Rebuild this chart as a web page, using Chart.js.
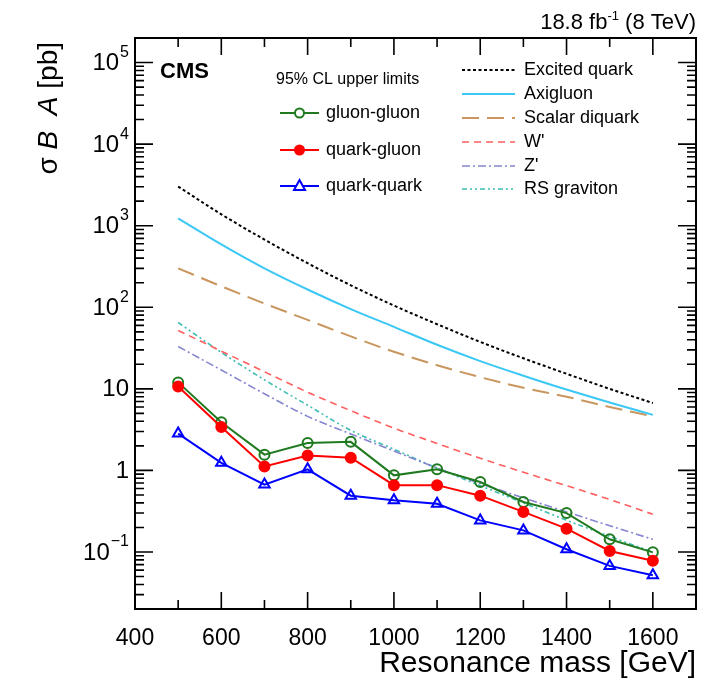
<!DOCTYPE html>
<html>
<head>
<meta charset="utf-8">
<script src="https://cdn.jsdelivr.net/npm/chart.js@4.4.1/dist/chart.umd.min.js"></script>
<style>
html, body { margin: 0; padding: 0; background: #fff; }
#wrap { width: 704px; height: 685px; }
</style>
</head>
<body>
<div id="wrap"><canvas id="myChart" width="704" height="685"></canvas></div>
<script>
// resonance masses (GeV)
var masses = [500, 600, 700, 800, 900, 1000, 1100, 1200, 1300, 1400, 1500, 1600];

// 95% CL upper limits (pb)
var gluonGluon = [12.0, 3.9, 1.56, 2.17, 2.24, 0.87, 1.03, 0.72, 0.41, 0.30, 0.143, 0.099];
var quarkGluon = [10.7, 3.4, 1.12, 1.52, 1.43, 0.66, 0.66, 0.49, 0.31, 0.193, 0.103, 0.078];
var quarkQuark = [2.83, 1.24, 0.67, 1.03, 0.49, 0.43, 0.39, 0.244, 0.184, 0.108, 0.0675, 0.052];

// model predictions (pb)
var excitedQuark = [3020, 1380, 676, 347, 186, 105, 62, 37.6, 23.7, 15.3, 10.0, 6.7];
var axigluon = [1230, 590, 300, 165, 95, 57.5, 34.7, 21.9, 14.5, 9.8, 6.8, 4.8];
var scalarDiquark = [300, 181, 111, 70, 44, 28.5, 19.5, 13.9, 10.3, 8.0, 6.0, 4.6];
var wPrime = [52, 29, 16.2, 9.1, 5.4, 3.3, 2.14, 1.41, 0.95, 0.65, 0.44, 0.29];
var zPrime = [33, 17, 8.7, 4.6, 2.8, 1.73, 1.07, 0.69, 0.46, 0.31, 0.21, 0.143];
var rsGraviton = [65, 28, 12.9, 6.3, 3.1, 1.82, 1.07, 0.65, 0.40, 0.245, 0.155, 0.10];

// axis tick labels
var xTickLabels = {400: '400', 600: '600', 800: '800', 1000: '1000', 1200: '1200', 1400: '1400', 1600: '1600'};
// y labels: [base, exponent] for each decade
var yTickLabels = {'-1': ['10', '\u22121'], '0': ['1', ''], '1': ['10', ''], '2': ['10', '2'],
                   '3': ['10', '3'], '4': ['10', '4'], '5': ['10', '5']};

function pts(vals) {
  return masses.map(function (m, i) { return {x: m, y: vals[i]}; });
}

function isDecade(v) {
  var l = Math.log10(v);
  return Math.abs(l - Math.round(l)) < 1e-6;
}

var FONT = '"Liberation Sans", Arial, sans-serif';

// frame, inward ticks and all the free text (CMS style)
var decor = {
  id: 'decor',
  afterDraw: function (chart) {
    var ctx = chart.ctx, a = chart.chartArea;
    var xs = chart.scales.x, ys = chart.scales.y;
    ctx.save();
    ctx.strokeStyle = '#000';
    ctx.lineWidth = 1.6;
    ctx.beginPath();
    xs.ticks.forEach(function (t) {
      var px = xs.getPixelForValue(t.value);
      var len = (t.value % 200 === 0) ? 17 : 9;
      ctx.moveTo(px, a.bottom); ctx.lineTo(px, a.bottom - len);
      ctx.moveTo(px, a.top); ctx.lineTo(px, a.top + len);
    });
    ys.ticks.forEach(function (t) {
      var v = t.value;
      var e = Math.floor(Math.log10(v) + 1e-9);
      var m = v / Math.pow(10, e);
      if (Math.abs(m - Math.round(m)) > 1e-6) return;
      var py = ys.getPixelForValue(v);
      var len = isDecade(v) ? 18 : 9;
      ctx.moveTo(a.left, py); ctx.lineTo(a.left + len, py);
      ctx.moveTo(a.right, py); ctx.lineTo(a.right - len, py);
    });
    ctx.stroke();
    ctx.lineWidth = 2;
    ctx.strokeRect(a.left, a.top, a.right - a.left, a.bottom - a.top);

    ctx.fillStyle = '#000';

    // y tick labels with raised exponents
    ctx.textBaseline = 'middle';
    ctx.textAlign = 'left';
    ys.ticks.forEach(function (t) {
      if (!isDecade(t.value)) return;
      var lab = yTickLabels[String(Math.round(Math.log10(t.value)))];
      if (!lab) return;
      var py = ys.getPixelForValue(t.value);
      ctx.font = '24px ' + FONT; var wb = ctx.measureText(lab[0]).width;
      ctx.font = '16px ' + FONT; var we = lab[1] ? ctx.measureText(lab[1]).width + 1 : 0;
      var xr = a.left - 6;
      ctx.font = '24px ' + FONT; ctx.fillText(lab[0], xr - we - wb, py + 1);
      if (lab[1]) { ctx.font = '16px ' + FONT; ctx.fillText(lab[1], xr - we + 1, py - 10); }
    });

    ctx.textBaseline = 'alphabetic';

    // CMS label
    ctx.font = 'bold 22px ' + FONT;
    ctx.textAlign = 'left';
    ctx.fillText('CMS', 160, 78);

    // lumi label
    var p1 = '18.8 fb', p2 = '-1', p3 = ' (8 TeV)';
    ctx.font = '22px ' + FONT; var w1 = ctx.measureText(p1).width, w3 = ctx.measureText(p3).width;
    ctx.font = '13px ' + FONT; var w2 = ctx.measureText(p2).width;
    var x0 = a.right - (w1 + w2 + w3);
    ctx.font = '22px ' + FONT; ctx.fillText(p1, x0, 29);
    ctx.font = '13px ' + FONT; ctx.fillText(p2, x0 + w1, 20);
    ctx.font = '22px ' + FONT; ctx.fillText(p3, x0 + w1 + w2, 29);

    // x title
    ctx.font = '30px ' + FONT;
    ctx.textAlign = 'right';
    ctx.fillText('Resonance mass [GeV]', a.right, 672);

    // y title
    ctx.save();
    ctx.translate(57, 0);
    ctx.rotate(-Math.PI / 2);
    ctx.textAlign = 'left';
    var parts = [['\u03C3 ', '28px '], ['B', 'italic 28px '], ['  ', '28px '], ['A', 'italic 28px '], [' [pb]', '28px ']];
    var tw = 0;
    parts.forEach(function (p) { ctx.font = p[1] + FONT; tw += ctx.measureText(p[0]).width; });
    var cx = -(42 + tw);
    parts.forEach(function (p) { ctx.font = p[1] + FONT; ctx.fillText(p[0], cx, 0); cx += ctx.measureText(p[0]).width; });
    ctx.restore();

    // legend, left column
    ctx.textAlign = 'left';
    ctx.textBaseline = 'middle';
    ctx.font = '16px ' + FONT;
    ctx.fillText('95% CL upper limits', 276, 80);
    var left = [
      ['gluon-gluon', '#1f7a1f', 'circle', false, 113],
      ['quark-gluon', '#ff0000', 'circle', true, 150],
      ['quark-quark', '#0000ff', 'triangle', false, 186]
    ];
    left.forEach(function (e) {
      ctx.setLineDash([]);
      ctx.strokeStyle = e[1]; ctx.fillStyle = e[1]; ctx.lineWidth = 2;
      ctx.beginPath(); ctx.moveTo(280, e[4]); ctx.lineTo(319, e[4]); ctx.stroke();
      ctx.beginPath();
      if (e[2] === 'circle') {
        ctx.arc(299.5, e[4], 4.5, 0, Math.PI * 2);
      } else {
        ctx.moveTo(299.5, e[4] - 6); ctx.lineTo(305, e[4] + 4); ctx.lineTo(294, e[4] + 4); ctx.closePath();
      }
      if (e[3]) ctx.fill(); else { ctx.fillStyle = '#fff'; ctx.fill(); }
      ctx.stroke();
      ctx.fillStyle = '#000';
      ctx.font = '18px ' + FONT;
      ctx.fillText(e[0], 326, e[4]);
    });

    // legend, right column (built from the model datasets)
    var ry = [70, 94, 118, 142, 166, 189];
    chart.data.datasets.slice(3).forEach(function (ds, i) {
      ctx.strokeStyle = ds.borderColor;
      ctx.lineWidth = ds.borderWidth;
      ctx.setLineDash(ds.borderDash || []);
      ctx.beginPath(); ctx.moveTo(462, ry[i]); ctx.lineTo(515, ry[i]); ctx.stroke();
      ctx.setLineDash([]);
      ctx.fillStyle = '#000';
      ctx.font = '18px ' + FONT;
      ctx.fillText(ds.label, 524, ry[i]);
    });
    ctx.restore();
  }
};

new Chart('myChart', {
  type: 'line',
  data: {
    datasets: [
      {label: 'quark-gluon', data: pts(quarkGluon), borderColor: '#ff0000', backgroundColor: '#ff0000',
       borderWidth: 2, pointRadius: 5, pointBorderWidth: 2, pointBackgroundColor: '#ff0000'},
      {label: 'gluon-gluon', data: pts(gluonGluon), borderColor: '#1f7a1f', backgroundColor: '#1f7a1f',
       borderWidth: 2, pointRadius: 5, pointBorderWidth: 2, pointBackgroundColor: 'rgba(255,255,255,0)'},
      {label: 'quark-quark', data: pts(quarkQuark), borderColor: '#0000ff', backgroundColor: '#0000ff',
       borderWidth: 2, pointRadius: 6, pointStyle: 'triangle', pointBorderWidth: 2, pointBackgroundColor: 'rgba(255,255,255,0)'},
      {label: 'Excited quark', data: pts(excitedQuark), borderColor: '#000000', borderWidth: 2,
       borderDash: [3, 2.5], pointRadius: 0, cubicInterpolationMode: 'monotone'},
      {label: 'Axigluon', data: pts(axigluon), borderColor: '#3cc8f5', borderWidth: 2,
       pointRadius: 0, cubicInterpolationMode: 'monotone'},
      {label: 'Scalar diquark', data: pts(scalarDiquark), borderColor: '#c8965e', borderWidth: 2,
       borderDash: [17, 8], pointRadius: 0, cubicInterpolationMode: 'monotone'},
      {label: "W'", data: pts(wPrime), borderColor: '#ff5f5f', borderWidth: 1.6,
       borderDash: [7, 5], pointRadius: 0, cubicInterpolationMode: 'monotone'},
      {label: "Z'", data: pts(zPrime), borderColor: '#8585d0', borderWidth: 1.6,
       borderDash: [8, 3, 2, 3], pointRadius: 0, cubicInterpolationMode: 'monotone'},
      {label: 'RS graviton', data: pts(rsGraviton), borderColor: '#3dbdb2', borderWidth: 1.6,
       borderDash: [5, 3, 2, 3, 2, 3], pointRadius: 0, cubicInterpolationMode: 'monotone'}
    ]
  },
  options: {
    responsive: false,
    animation: false,
    layout: {padding: {top: 38, right: 7, left: 0, bottom: 0}},
    plugins: {legend: {display: false}, tooltip: {enabled: false}},
    scales: {
      x: {
        type: 'linear', min: 400, max: 1700,
        grid: {display: false}, border: {display: false},
        afterFit: function (s) { s.height = 76; },
        ticks: {
          stepSize: 100, autoSkip: false, maxRotation: 0, padding: 8,
          color: '#000', font: {size: 23, family: FONT},
          callback: function (v) { return xTickLabels[v] || ''; }
        }
      },
      y: {
        type: 'logarithmic', min: 0.02, max: 200000,
        grid: {display: false}, border: {display: false},
        afterFit: function (s) { s.width = 135; },
        ticks: {display: false, autoSkip: false}
      }
    }
  },
  plugins: [decor]
});
</script>
</body>
</html>
